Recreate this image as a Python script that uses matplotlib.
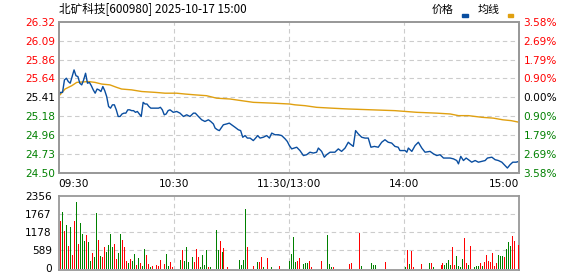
import numpy as np
import matplotlib.pyplot as plt
from matplotlib.patches import Rectangle

plt.rcParams['font.family'] = ['DejaVu Sans']

# reference values
pre_close = 25.41
price_ticks = [26.32, 26.09, 25.86, 25.64, 25.41, 25.18, 24.96, 24.73, 24.50]
pct_labels = ['3.58%', '2.69%', '1.79%', '0.90%', '0.00%', '0.90%', '1.79%', '2.69%', '3.58%']
time_ticks = [0, 60, 120, 180, 240]
time_labels = ['09:30', '10:30', '11:30/13:00', '14:00', '15:00']
vol_ticks = [0, 589, 1178, 1767, 2356]

# price line (minute since open, price)
price_min = [0, 1, 2, 3, 4, 5, 6, 7, 8, 9, 10, 11, 12, 13, 14, 15, 16, 17, 18, 19,
             20, 21, 22, 23, 24, 25, 26, 27, 28, 29, 30, 31, 32, 33, 34, 35, 36, 37, 38, 39,
             40, 41, 42, 43, 44, 45, 46, 47, 48, 49, 50, 51, 52, 53, 54, 55, 56, 57, 58,
             59.7, 61.5, 63.2, 65, 66.7, 68.4, 70.2, 71.2, 72.8, 74.5, 76.2, 78, 79.2, 80.6,
             81.5, 82.7, 83.7, 84.9, 85.8, 87.5, 88.9, 90.1, 91.9, 93.6, 94.8, 95.9, 97.1,
             98.3, 99.7, 101.4, 102.6, 103.7, 104.9, 106.6, 108.4, 109.8, 111, 112.7, 114.5,
             116.2, 118, 119.1, 120.2, 121.4, 124, 125.7, 127.5, 129.2, 130.9, 132.7, 134.4,
             135.3, 137, 138.4, 139.6, 141.4, 143.9, 145.7, 147.4, 149.2, 150.9, 151.8, 153.5,
             154.7, 156.1, 157.9, 159.6, 161.3, 162.7, 164.5, 166.5, 168.3, 170, 171.7, 173.5,
             175.2, 176.9, 177.8, 180.5, 181.4, 182.2, 184, 185.7, 187.4, 189.2, 190.9, 193.5,
             195.3, 197, 198.7, 200.5, 203.9, 205.7, 207.4, 208.3, 209.5, 210.9, 212.3, 213.5,
             215.2, 217, 218.7, 220.5, 222.2, 223.4, 225.7, 227.4, 229.1, 230.9, 232.6, 233.8,
             235.2, 236.6, 238.3, 240]
price = [25.44, 25.47, 25.47, 25.62, 25.64, 25.60, 25.58, 25.66, 25.74, 25.67, 25.66, 25.58,
         25.56, 25.62, 25.70, 25.58, 25.59, 25.55, 25.50, 25.46, 25.51, 25.50, 25.48, 25.54,
         25.49, 25.42, 25.30, 25.28, 25.32, 25.32, 25.26, 25.18, 25.18, 25.21, 25.22, 25.22,
         25.26, 25.26, 25.25, 25.25, 25.23, 25.24, 25.21, 25.18, 25.35, 25.33, 25.33, 25.30,
         25.28, 25.28, 25.28, 25.28, 25.28, 25.29, 25.26, 25.20, 25.21, 25.25, 25.26,
         25.23, 25.24, 25.22, 25.18, 25.20, 25.18, 25.22, 25.22, 25.18, 25.14, 25.12, 25.14,
         25.12, 25.09, 25.04, 25.02, 25.01, 25.05, 25.08, 25.09, 25.10, 25.08, 25.05, 25.02,
         25.01, 24.93, 24.95, 24.92, 24.92, 24.89, 24.92, 24.95, 24.92, 24.93, 24.95, 24.92,
         24.98, 24.96, 24.96, 24.95, 24.91, 24.88, 24.83, 24.79, 24.81, 24.77, 24.71, 24.72,
         24.75, 24.74, 24.75, 24.80, 24.76, 24.69, 24.72, 24.75, 24.75, 24.79, 24.76, 24.80,
         24.87, 24.85, 24.82, 25.01, 24.97, 24.93, 24.92, 24.92, 24.81, 24.82, 24.81, 24.87,
         24.90, 24.87, 24.86, 24.82, 24.81, 24.77, 24.77, 24.75, 24.80, 24.76, 24.83, 24.87,
         24.80, 24.75, 24.76, 24.73, 24.71, 24.72, 24.68, 24.68, 24.67, 24.65, 24.61, 24.70,
         24.65, 24.68, 24.66, 24.63, 24.65, 24.63, 24.64, 24.65, 24.68, 24.69, 24.66, 24.65,
         24.63, 24.59, 24.56, 24.60, 24.63, 24.63, 24.64]

# average price line
avg_min = [0, 0.7, 3.3, 6.8, 9.4, 15.5, 18.9, 22.4, 26.7, 30.2, 32.8, 38, 43.3, 50.2, 55.4,
           61.5, 65.8, 71, 77, 82.3, 89.3, 95.3, 101.4, 111.8, 120.2, 123.1, 128.3, 134.4,
           142.2, 150.9, 163.1, 175.2, 186.6, 197, 204, 208.3, 213.5, 220.5, 226.5, 231.4,
           235.7, 240]
avg = [25.44, 25.44, 25.51, 25.55, 25.59, 25.60, 25.59, 25.57, 25.56, 25.53, 25.51, 25.50,
       25.48, 25.47, 25.46, 25.46, 25.45, 25.44, 25.43, 25.40, 25.39, 25.37, 25.35, 25.34,
       25.33, 25.32, 25.31, 25.29, 25.28, 25.27, 25.26, 25.25, 25.23, 25.22, 25.21, 25.19,
       25.19, 25.17, 25.16, 25.14, 25.13, 25.11]

# volume per minute, with up (R) / down (G) colour code
vol_am1 = [1548, 1831, 1221, 1417, 730, 1352, 436, 1548, 2158, 796, 1482, 1123, 894, 1090,
           861, 240, 501, 371, 1809, 927, 414, 371, 698, 534, 763, 1123, 698, 796, 305, 501,
           1123, 927, 698, 240, 174, 305, 240, 469, 109, 338, 174, 76, 632, 436, 142, 44, 76,
           20, 109, 76, 273, 20, 142, 469, 76, 207, 44, 15, 15, 15]
dir_am1 = "RGRGRGRRGR" "GGGRGGRGGR" "GRRGGGGRRG" "GRRRGRGGRG" "RGGRRGRGRR" "RGRGGRRGGG"
vol_am2 = [273, 600, 240, 698, 207, 20, 371, 207, 632, 371, 44, 436, 109, 600, 44, 44, 20,
           20, 1254, 600, 894, 534, 665, 15, 44, 15, 15, 15, 15, 20, 273, 109, 273, 1940, 698,
           20, 10, 76, 10, 207, 207, 371, 44, 20, 338, 10, 44, 10, 20, 15, 76, 15, 20, 15, 20,
           240, 469, 1025]
dir_am2 = "GRGGGRGRRR" "GGGGRGRGGG" "RGRRRGGGGG" "GGGGRRGRGG" "RRGGRRGRGR" "RRGGGGGG"
vol_pm1 = [207, 240, 338, 15, 142, 174, 174, 240, 44, 15, 15, 20, 15, 240, 20, 15, 1090, 142,
           44, 44, 15, 15, 15, 15, 15, 15, 20, 131, 174, 20, 10, 15, 1155, 76, 15, 15, 15, 15,
           174, 109, 109, 15, 15, 15, 20, 207, 15, 15, 15, 15, 20, 15, 15, 15, 15, 44, 600]
dir_pm1 = "GRRGGGGRRR" "GRGRGGGGGR" "RGRRRGRRRG" "RGRGGGGGGG" "GGGGRRGGGG" "GGGGGGR"
vol_pm2 = [142, 567, 44, 20, 20, 15, 142, 15, 20, 15, 174, 174, 44, 15, 20, 20, 109, 174, 109,
           174, 273, 109, 698, 109, 403, 76, 44, 305, 992, 174, 109, 730, 20, 44, 76, 76, 174,
           76, 207, 436, 240, 207, 501, 76, 174, 436, 403, 403, 371, 632, 861, 730, 1057, 894,
           15, 763]
dir_pm2 = "GRRGGRRGGG" "GRGGGGRRGG" "GGRRGGGGRR" "GRGGGGRGRR" "RRRRRGGGRG" "GGRRGR"

BLUE = '#0a4ea0'
GOLD = '#e0a010'
RED = '#ff0000'
GREEN = '#008000'
FRAME = '#999999'
GRID = '#cccccc'


def price_color(v):
    if abs(v - pre_close) < 0.005:
        return 'black'
    return RED if v > pre_close else GREEN


fig = plt.figure(figsize=(5.78, 2.76), dpi=100)
W, H = 578.0, 276.0

# --- price panel ---
ax = fig.add_axes([58.7 / W, (H - 173) / H, 460.6 / W, 151.3 / H])
ax.plot(avg_min, avg, color=GOLD, lw=1.0, zorder=3)
ax.plot(price_min, price, color=BLUE, lw=1.0, zorder=4)
ax.set_xlim(0, 240)
ax.set_ylim(price_ticks[-1], price_ticks[0])

ax.set_yticks(price_ticks)
ax.set_yticklabels(['%.2f' % p for p in price_ticks], fontsize=7.6)
for lab, p in zip(ax.get_yticklabels(), price_ticks):
    lab.set_color(price_color(p))

ax.set_xticks(time_ticks)
ax.set_xticklabels(time_labels, fontsize=7.6)
ax.get_xticklabels()[0].set_ha('left')
ax.get_xticklabels()[-1].set_ha('right')
ax.tick_params(axis='both', length=0)
ax.tick_params(axis='y', pad=2.5)
ax.tick_params(axis='x', pad=4)

ax2 = ax.twinx()
ax2.set_ylim(ax.get_ylim())
ax2.set_yticks(price_ticks)
ax2.set_yticklabels(pct_labels, fontsize=7.6)
for lab, p in zip(ax2.get_yticklabels(), price_ticks):
    lab.set_color(price_color(p))
ax2.tick_params(axis='y', length=0, pad=3)

for p in price_ticks[1:-1]:
    ax.axhline(p, color=GRID, lw=0.8, ls=(0, (4, 3)), zorder=1)
for t in time_ticks[1:-1]:
    ax.axvline(t, color=GRID, lw=0.8, ls=(0, (4, 3)), zorder=1)

for a in (ax, ax2):
    for s in a.spines.values():
        s.set_color(FRAME)
        s.set_linewidth(1.3)

# --- volume panel ---
vols = vol_am1 + vol_am2 + vol_pm1 + vol_pm2
dirs = dir_am1 + dir_am2 + dir_pm1 + dir_pm2
bar_x = np.linspace(0.8, 239.4, len(vols))
bar_c = [RED if d == 'R' else GREEN for d in dirs]

axv = fig.add_axes([58.7 / W, (H - 270) / H, 460.6 / W, 74 / H])
axv.vlines(bar_x, 0, vols, colors=bar_c, lw=0.72, antialiased=False, zorder=3)
axv.set_xlim(0, 240)
axv.set_ylim(-50, vol_ticks[-1])
axv.set_yticks(vol_ticks)
axv.set_yticklabels([str(v) for v in vol_ticks], fontsize=7.6)
axv.set_xticks([])
axv.tick_params(axis='y', length=0, pad=5)
for v in vol_ticks[1:-1]:
    axv.axhline(v, color=GRID, lw=0.8, ls=(0, (4, 3)), zorder=1)
for t in time_ticks[1:-1]:
    axv.axvline(t, color=GRID, lw=0.8, ls=(0, (4, 3)), zorder=1)
for s in axv.spines.values():
    s.set_color(FRAME)
    s.set_linewidth(1.3)

# --- header ---
cjk = ['Noto Sans CJK SC', 'DejaVu Sans']
fig.text(59 / W, 1 - 8.5 / H, '北矿科技[600980] 2025-10-17 15:00', family=cjk,
         fontsize=8.4, va='center', ha='left', color='black')
fig.text(443 / W, 1 - 9.5 / H, '价格', family=cjk, fontsize=7.9,
         va='center', ha='center', color='black')
fig.text(489 / W, 1 - 9.5 / H, '均线', family=cjk, fontsize=7.9,
         va='center', ha='center', color='black')
fig.patches.append(Rectangle((462.3 / W, 1 - 16.7 / H), 5.4 / W, 2.7 / H,
                             transform=fig.transFigure, color=BLUE))
fig.patches.append(Rectangle((508.3 / W, 1 - 16.7 / H), 5.0 / W, 2.7 / H,
                             transform=fig.transFigure, color=GOLD))

fig.savefig('out.png', dpi=100)
